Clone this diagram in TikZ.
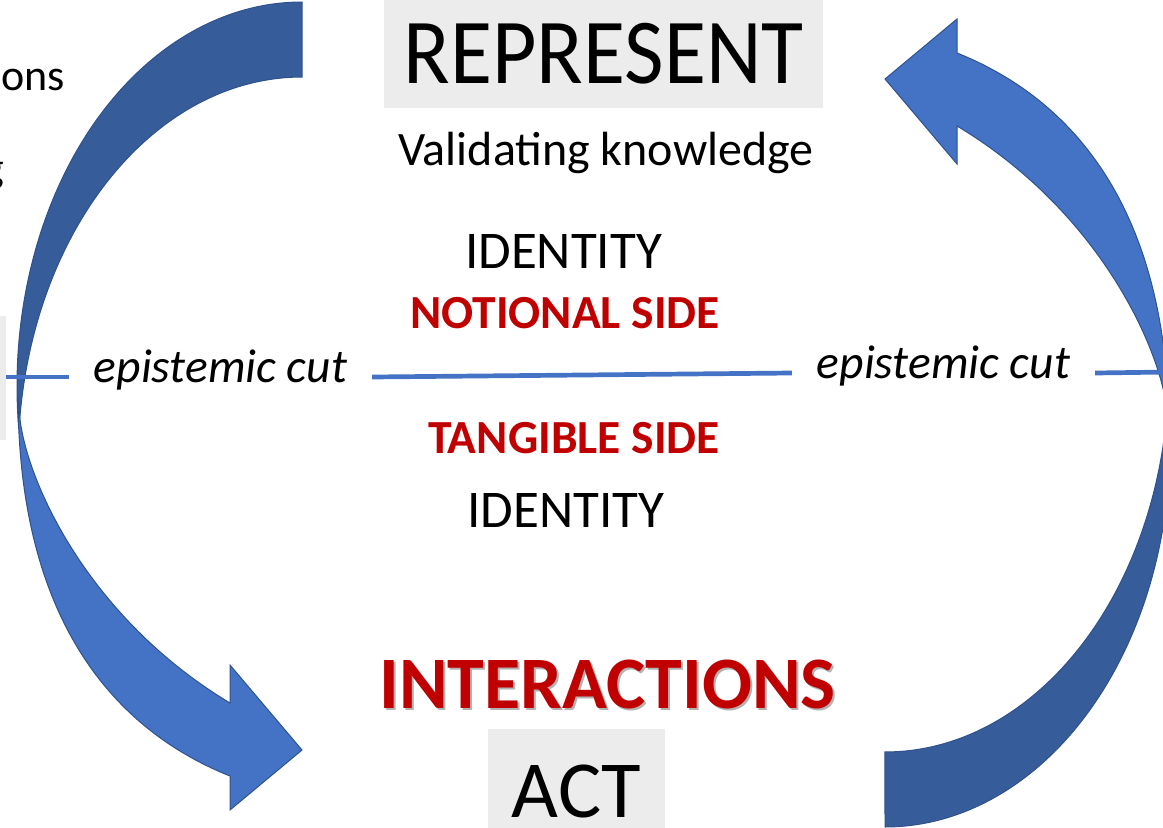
\documentclass[tikz,border=0pt]{standalone}
\usepackage{fontspec}
\setmainfont{Carlito}
\usepackage{xcolor}
\usepackage{tikz}

\definecolor{frontblue}{RGB}{68,114,196}
\definecolor{backblue}{RGB}{54,92,154}
\definecolor{edgeblue}{RGB}{47,82,143}
\definecolor{sidered}{RGB}{192,0,0}
\definecolor{boxgrey}{RGB}{236,236,236}

% one bent arrow: darker back part on top, lighter front part with the head
\newcommand{\bentarrow}{%
  \filldraw[arrowback] (302,2)
    arc[start angle=270, end angle=174, x radius=285, y radius=384]
    -- (19.6,420.9)
    arc[start angle=186, end angle=270, x radius=284, y radius=384] -- cycle;
  \filldraw[arrowfront] (18,395) .. controls (18,615) and (110,728) .. (230,776)
    -- (230,810) -- (302,750) -- (230,665) -- (230,703)
    .. controls (80,613) and (19,465) .. (19,405) -- cycle;
}

\begin{document}
\begin{tikzpicture}[x=1pt, y=-1pt,
  arrowback/.style={fill=backblue, draw=edgeblue, line width=1pt},
  arrowfront/.style={fill=frontblue, draw=edgeblue, line width=1pt},
  cutline/.style={frontblue, line width=4.7pt},
  greybox/.style={fill=boxgrey, inner sep=0pt},
  cutlabel/.style={font=\fontsize{47.5}{50}\selectfont\itshape, text height=20pt, text depth=10pt, inner sep=0pt},
  sidelabel/.style={font=\fontsize{47.5}{50}\selectfont\bfseries, text=sidered, anchor=base, inner sep=0pt},
  plainlabel/.style={anchor=base, inner sep=0pt}]

% === Parameters ===
\pgfmathsetmacro{\turnx}{593.5}  % centre of the half turn between the two arrows
\pgfmathsetmacro{\turny}{414.5}

% === Drawing region ===
\useasboundingbox (0,0) rectangle (1163,828);

% === Boxes cut by the frame ===
\fill[boxgrey] (-30,316) rectangle (6,440);

% === Arrows ===
\bentarrow
\begin{scope}[rotate around={180:(\turnx,\turny)}]
  \bentarrow
\end{scope}

% === Labels ===
\node[greybox, minimum width=439pt, minimum height=108pt, font=\fontsize{86}{90}\selectfont]
  (represent) at (603.5,54) {\scalebox{1}[1.08]{REPRESENT}};
\node[plainlabel, font=\fontsize{48}{50}\selectfont] (validating) at (606,165) {Validating knowledge};
\node[plainlabel, font=\fontsize{53}{56}\selectfont] (identityN) at (563.5,268) {IDENTITY};
\node[sidelabel] (notional) at (565,328) {NOTIONAL SIDE};
\node[sidelabel] (tangible) at (574,453) {TANGIBLE SIDE};
\node[plainlabel, font=\fontsize{53}{56}\selectfont] (identityT) at (566,527) {IDENTITY};
\node[plainlabel, font=\fontsize{74}{78}\selectfont\bfseries, text=sidered] (interactions) at (607.5,708)
  {\rlap{\kern2pt\raisebox{-2.5pt}{\color{black!30}INTERACTIONS}}INTERACTIONS};
\node[greybox, minimum width=177pt, minimum height=124pt, font=\fontsize{81}{84}\selectfont]
  (act) at (576.5,791) {ACT};

% left edge text, cut by the frame
\node[anchor=base east, inner sep=0pt, font=\fontsize{44}{48}\selectfont] (ons) at (65,90) {ons};
\node[anchor=base east, inner sep=0pt, font=\fontsize{44}{48}\selectfont] (gtail) at (4,182) {g};

% === Epistemic cut ===
\node[cutlabel, minimum width=303pt] (cutL) at (220.5,377) {epistemic cut};
\node[cutlabel, minimum width=303pt] (cutR) at (943.5,373) {epistemic cut};
\coordinate (cutstart) at (6,377);
\coordinate (cutend) at (1170,372);

\draw[cutline] (cutstart) -- (cutL.west);
\draw[cutline] (cutL.east) -- (cutR.west);
\draw[cutline] (cutR.east) -- (cutend);

\end{tikzpicture}
\end{document}
